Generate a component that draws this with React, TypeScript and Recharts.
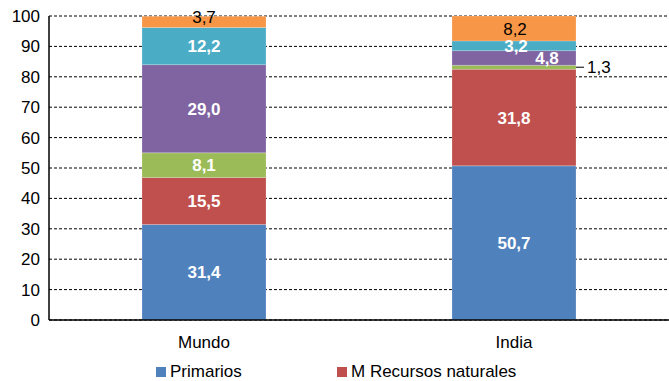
import React from 'react';
import { BarChart, Bar, XAxis, YAxis, CartesianGrid, Legend, LabelList } from 'recharts';

const categories = ['Mundo', 'India'];
const primarios = [31.4, 50.7];
const recursosNaturales = [15.5, 31.8];
const bajaTec = [8.1, 1.3];
const mediaTec = [29.0, 4.8];
const altaTec = [12.2, 3.2];
const otros = [3.7, 8.2];
const yTicks = [0, 10, 20, 30, 40, 50, 60, 70, 80, 90, 100];

const data = categories.map((name, i) => ({
    name,
    primarios: primarios[i],
    recursos: recursosNaturales[i],
    baja: bajaTec[i],
    media: mediaTec[i],
    alta: altaTec[i],
    otros: otros[i],
}));

const FONT = '"Liberation Sans", Arial, sans-serif';
const FS = 17;
const fmt = (v: number) => v.toFixed(1).replace('.', ',');

type LabelStyle = { color: string; bold: boolean; dx?: number; dy?: number; leader?: boolean };

// per series, per category label style
const makeLabel = (styles: LabelStyle[]) => (props: any) => {
    const { x, y, width, height, value, index } = props;
    const s = styles[index];
    const cx = x + width / 2 + (s.dx || 0);
    const cy = y + height / 2 + (s.dy || 0);
    if (s.leader) {
        const lx = x + width;
        return (
            <g>
                <line x1={lx} y1={cy} x2={lx + 8} y2={cy} stroke="#000" strokeWidth={1} />
                <text x={lx + 11} y={cy} dy="0.36em" fontSize={FS} fontFamily={FONT} fill="#000">
                    {fmt(value)}
                </text>
            </g>
        );
    }
    return (
        <text x={cx} y={cy} dy="0.36em" textAnchor="middle" fontSize={FS} fontFamily={FONT}
            fontWeight={s.bold ? 'bold' : 'normal'} fill={s.color}>
            {fmt(value)}
        </text>
    );
};

const white: LabelStyle = { color: '#fff', bold: true };

const series = [
    { key: 'primarios', name: 'Primarios', color: '#4F81BD', labels: [white, white] },
    { key: 'recursos', name: 'M Recursos naturales', color: '#C0504D', labels: [white, white] },
    { key: 'baja', name: 'M Baja tecnología', color: '#9BBB59', labels: [white, { color: '#000', bold: false, leader: true }] },
    { key: 'media', name: 'M Media tecnología', color: '#8064A2', labels: [white, { color: '#fff', bold: true, dx: 33 }] },
    { key: 'alta', name: 'M Alta tecnología', color: '#4BACC6', labels: [white, { color: '#fff', bold: true, dx: 2 }] },
    { key: 'otros', name: 'Otros', color: '#F79646', labels: [{ color: '#000', bold: false, dy: -5 }, { color: '#000', bold: false, dx: 1 }] },
];

const LegendContent = () => (
    <div style={{ display: 'flex', marginLeft: 156, paddingTop: 13, fontFamily: FONT, fontSize: FS, color: '#000', lineHeight: '18px' }}>
        {series.slice(0, 2).map((s) => (
            <div key={s.key} style={{ width: 181, display: 'flex', alignItems: 'center' }}>
                <span style={{ width: 10, height: 10, background: s.color, marginRight: 4, display: 'inline-block' }} />
                <span>{s.name}</span>
            </div>
        ))}
    </div>
);

export default function App() {
    return (
        <div style={{ position: 'absolute', left: 0, top: 0, background: '#fff' }}>
            <BarChart width={669} height={381} data={data} barCategoryGap="30%"
                margin={{ top: 16, right: 0, left: 0, bottom: 0 }}>
                <CartesianGrid vertical={false} stroke="#000" strokeDasharray="3 2" strokeWidth={1} />
                <XAxis dataKey="name" axisLine={{ stroke: '#000', strokeWidth: 1.5 }} tickLine={false}
                    tickSize={0} tickMargin={16} height={30}
                    tick={{ fill: '#000', fontSize: FS, fontFamily: FONT }} />
                <YAxis domain={[0, 100]} ticks={yTicks} width={49} axisLine={{ stroke: '#000', strokeWidth: 1.5 }}
                    tickLine={false} tickSize={0} tickMargin={9} interval={0}
                    tick={{ fill: '#000', fontSize: FS, fontFamily: FONT }} />
                <Legend verticalAlign="bottom" height={31} content={LegendContent}
                    wrapperStyle={{ left: 0, width: 669 }} />
                {series.map((s) => (
                    <Bar key={s.key} dataKey={s.key} name={s.name} stackId="a" fill={s.color}
                        stroke="#fff" strokeOpacity={0.4} strokeWidth={0.5} isAnimationActive={false}>
                        <LabelList dataKey={s.key} content={makeLabel(s.labels)} />
                    </Bar>
                ))}
            </BarChart>
        </div>
    );
}
